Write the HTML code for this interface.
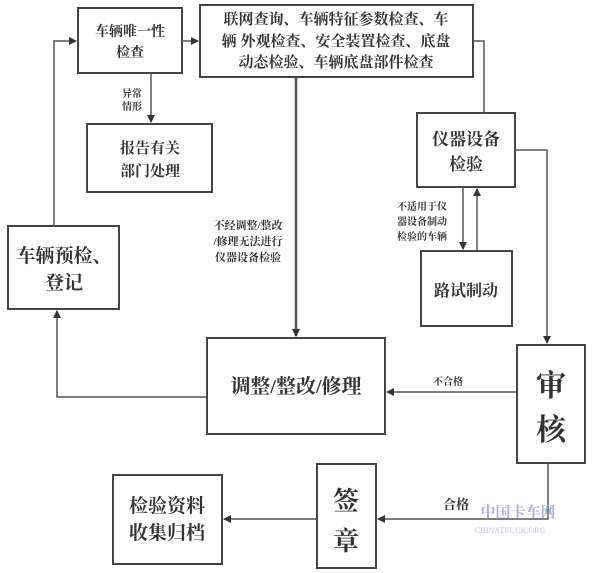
<!DOCTYPE html>
<html><head><meta charset="utf-8"><style>
html,body{margin:0;padding:0;background:#fff;}
svg{display:block;}
text{font-family:"Liberation Serif","Noto Serif CJK SC","Noto Sans CJK SC",serif;fill:#333;font-weight:bold;text-anchor:middle;}
</style></head><body>
<svg width="600" height="573" viewBox="0 0 600 573" xmlns="http://www.w3.org/2000/svg">
<defs><marker id="a" markerWidth="8" markerHeight="8" refX="7" refY="4" orient="auto" markerUnits="userSpaceOnUse"><path d="M0,0 L8,4 L0,8 z" fill="#333"/></marker></defs>
<g fill="none" stroke="#444" stroke-width="2">
<rect x="78" y="8" width="104" height="65"/>
<rect x="200" y="5" width="273" height="72"/>
<rect x="87" y="124" width="125" height="68"/>
<rect x="8" y="226" width="111" height="83"/>
<rect x="417" y="113" width="98" height="74"/>
<rect x="421" y="251" width="91" height="75"/>
<rect x="207" y="338" width="178" height="96"/>
<rect x="517" y="345" width="68" height="118"/>
<rect x="317" y="464" width="59" height="104"/>
<rect x="113" y="475" width="109" height="89"/>
</g>
<g fill="none" stroke="#555" stroke-width="1.5">
<polyline points="54,226 54,41 76,41" marker-end="url(#a)"/>
<line x1="182" y1="41" x2="198" y2="41" marker-end="url(#a)"/>
<line x1="151" y1="73" x2="151" y2="122" marker-end="url(#a)"/>
<line x1="296" y1="77" x2="296" y2="336" marker-end="url(#a)" stroke-width="2.5"/>
<polyline points="473,41 484,41 484,113"/>
<polyline points="515,150 547,150 547,343" marker-end="url(#a)"/>
<line x1="463" y1="187" x2="463" y2="249" marker-end="url(#a)"/>
<line x1="477" y1="251" x2="477" y2="189" marker-end="url(#a)"/>
<polyline points="207,397 57,397 57,311" marker-end="url(#a)"/>
<line x1="517" y1="392" x2="387" y2="392" marker-end="url(#a)"/>
<polyline points="548,463 548,519 378,519" marker-end="url(#a)"/>
<line x1="317" y1="519" x2="224" y2="519" marker-end="url(#a)"/>
</g>
<text x="130" y="36" font-size="14">车辆唯一性</text>
<text x="130" y="57" font-size="14">检查</text>
<text x="336" y="24" font-size="15">联网查询、车辆特征参数检查、车</text>
<text x="336" y="46" font-size="15">辆 外观检查、安全装置检查、底盘</text>
<text x="336" y="67" font-size="15">动态检验、车辆底盘部件检查</text>
<text x="132" y="97" font-size="10">异常</text>
<text x="132" y="110" font-size="10">情形</text>
<text x="150" y="153" font-size="15">报告有关</text>
<text x="150" y="176" font-size="15">部门处理</text>
<text x="64" y="262" font-size="19">车辆预检、</text>
<text x="64" y="289" font-size="19">登记</text>
<text x="248" y="229" font-size="11">不经调整/整改</text>
<text x="248" y="245" font-size="11">/修理无法进行</text>
<text x="248" y="261" font-size="11">仪器设备检验</text>
<text x="466" y="145" font-size="17">仪器设备</text>
<text x="466" y="170" font-size="17">检验</text>
<text x="422" y="210" font-size="10">不适用于仪</text>
<text x="422" y="225" font-size="10">器设备制动</text>
<text x="422" y="240" font-size="10">检验的车辆</text>
<text x="466" y="296" font-size="16">路试制动</text>
<text x="296" y="393" font-size="20">调整/整改/修理</text>
<text x="448" y="385" font-size="10">不合格</text>
<text x="551" y="396" font-size="30">审</text>
<text x="551" y="440" font-size="30">核</text>
<text x="346" y="510" font-size="26">签</text>
<text x="346" y="550" font-size="26">章</text>
<text x="167" y="512" font-size="19">检验资料</text>
<text x="167" y="539" font-size="19">收集归档</text>
<text x="456" y="509" font-size="13">合格</text>
<text x="518" y="517" font-size="15" fill="#9bb6d8" style="fill:#9bb6d8">中国卡车网</text>
<text x="510" y="533" font-size="8" style="fill:#b6c8df;font-weight:normal">CHINATRUCK.ORG</text>
</svg>
</body></html>
